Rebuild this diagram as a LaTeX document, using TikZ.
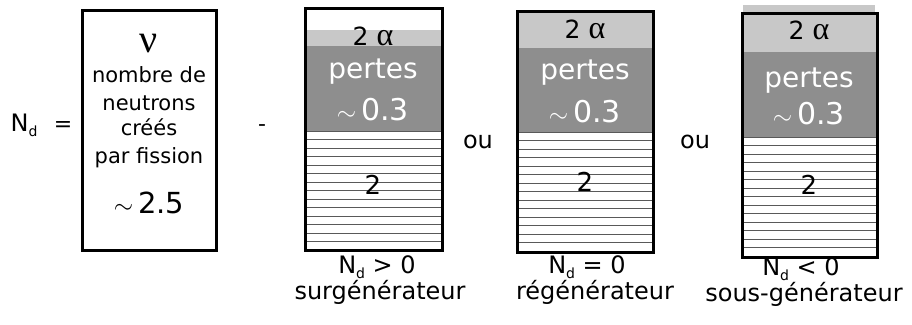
\documentclass[tikz,border=0pt]{standalone}
\usepackage{fontspec}
\setmainfont{DejaVu Sans}
\newfontfamily\grk{Liberation Serif}
\definecolor{lightg}{RGB}{200,200,200}
\definecolor{darkg}{RGB}{142,142,142}
\newcommand{\fs}[1]{\fontsize{#1}{#1}\selectfont}
\newcommand{\Nd}{N\raisebox{-0.4ex}{\fs{14}d}}
\newcommand{\alp}{{\grk\fs{32}α}}
\begin{document}
\begin{tikzpicture}[x=1pt,y=-1pt,
  frame/.style={draw=black,line width=3pt},
  hatchline/.style={draw=black!65,line width=0.9pt},
  txt/.style={inner sep=0pt,anchor=base},
  small/.style={txt,font=\fs{21}},
  lab/.style={txt,font=\fs{24}},
  alph/.style={txt,font=\fs{25}},
  pert/.style={txt,text=white,font=\fs{28}},
  sim/.style={txt,text=white,font=\fs{30}},
  two/.style={txt,font=\fs{26}}]
\useasboundingbox (0,0) rectangle (912,324);

% left part
\node[txt,font=\fs{24}] (nd) at (24,131) {\Nd};
\node[txt,font=\fs{22}] (eq) at (63,131) {=};
\node[txt,font=\fs{22}] (minus) at (262,131) {-};

% box 1
\draw[frame] (82,10) rectangle (216,250);
\node[txt,font=\grk\fs{40}] (nu) at (149,52) {ν};
\node[small] (l1) at (149,82) {nombre de};
\node[small] (l2) at (149,110) {neutrons};
\node[small] (l3) at (149,135) {créés};
\node[small] (l4) at (149,163) {par fission};
\node[txt,font=\fs{29}] (l5) at (149,213) {$\sim$\,2.5};

% box 2
\fill[lightg] (305,30) rectangle (442,46);
\fill[darkg] (305,46) rectangle (442,131);
\foreach \yy in {131,139.5,...,250} \draw[hatchline] (305,\yy) -- (442,\yy);
\draw[frame] (305,8) rectangle (442,250);
\node[alph] (a2) at (373,45) {2 \alp};
\node[pert] (p2) at (373,78) {pertes};
\node[sim] (q2) at (373,120) {$\sim$\,0.3};
\node[two] (t2) at (373,194) {2};
\node[lab] (n2) at (377,273) {\Nd{} > 0};
\node[lab] (s2) at (380,299) {surgénérateur};

\node[lab] (ou1) at (478,148) {ou};

% box 3
\fill[lightg] (517,11) rectangle (653,48);
\fill[darkg] (517,48) rectangle (653,132);
\foreach \yy in {132,140.5,...,252} \draw[hatchline] (517,\yy) -- (653,\yy);
\draw[frame] (517,11) rectangle (653,252);
\node[alph] (a3) at (585,38) {2 \alp};
\node[pert] (p3) at (585,79) {pertes};
\node[sim] (q3) at (585,122) {$\sim$\,0.3};
\node[two] (t3) at (585,191) {2};
\node[lab] (n3) at (587,273) {\Nd{} = 0};
\node[lab] (s3) at (595,299) {régénérateur};

\node[lab] (ou2) at (695,148) {ou};

% box 4
\fill[lightg] (743,5) rectangle (875,13);
\fill[lightg] (742,13) rectangle (877,52);
\fill[darkg] (742,52) rectangle (877,137);
\foreach \yy in {137,145.5,...,257} \draw[hatchline] (742,\yy) -- (877,\yy);
\draw[frame] (742,13) rectangle (877,257);
\node[alph] (a4) at (809,39) {2 \alp};
\node[pert] (p4) at (809,87) {pertes};
\node[sim] (q4) at (809,124) {$\sim$\,0.3};
\node[two] (t4) at (809,194) {2};
\node[lab] (n4) at (801,275) {\Nd{} < 0};
\node[lab] (s4) at (804,301) {sous-générateur};
\end{tikzpicture}
\end{document}
